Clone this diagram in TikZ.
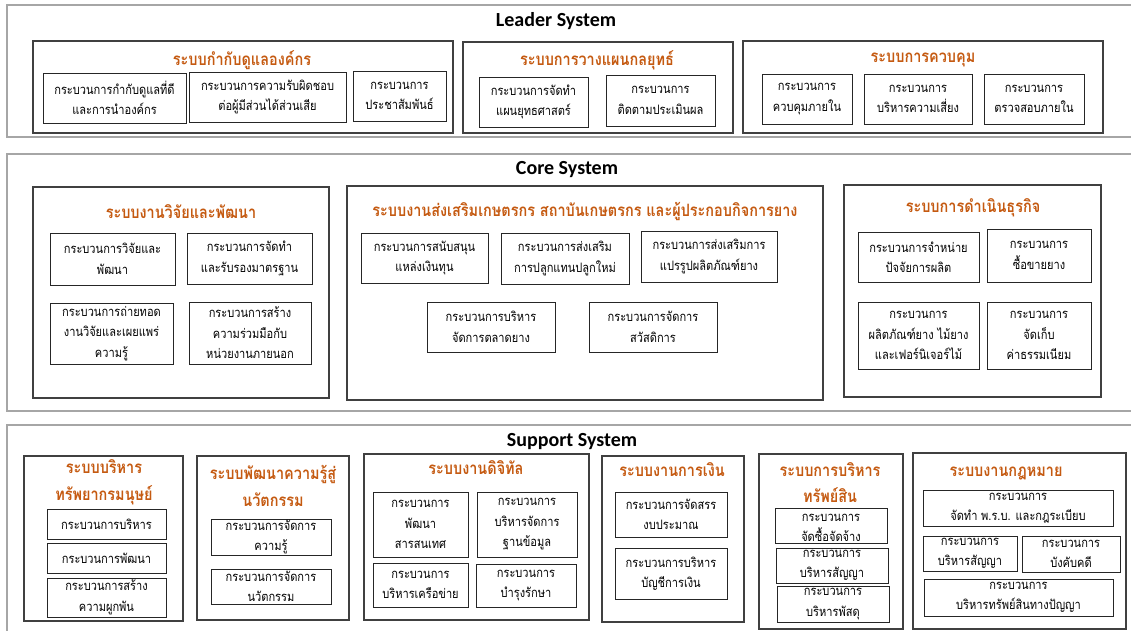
\documentclass[tikz,border=0pt]{standalone}
\usepackage{fontspec}
\setmainfont[Script=Thai, FakeStretch=0.85]{Loma}
\newfontfamily\engfont{Carlito}
\usetikzlibrary{fit}
\definecolor{orng}{HTML}{C55A11}
\definecolor{bandgray}{HTML}{A6A6A6}
\definecolor{grpgray}{HTML}{404040}
\tikzset{
 band/.style={draw=bandgray, line width=1.6pt, inner sep=0pt},
 grp/.style={draw=grpgray, line width=1.1pt, inner sep=0pt},
 subbox/.style={draw=black!85, line width=0.9pt, inner sep=0pt},
 ptxt/.style={align=center, inner sep=0pt, font=\fontsize{13}{20.5}\selectfont},
 gtitle/.style={align=center, inner sep=0pt, text=orng, font=\fontsize{17}{27}\selectfont\bfseries},
 systitle/.style={inner sep=0pt, font=\engfont\bfseries\fontsize{20}{24}\selectfont},
}
\newcommand\pbx[6]{\node[subbox, fit={(#2,#3) (#4,#5)}] (#1) {};
 \node[ptxt] (#1t) at (#1.center) {#6};}
\newcommand\gbx[5]{\node[grp, fit={(#2,#3) (#4,#5)}] (#1) {};}
\begin{document}
\begin{tikzpicture}[x=1pt,y=-1pt]
\useasboundingbox[fill=white] (0,0) rectangle (1131,630);
% ---------------- Leader ----------------
\node[band, fit={(7,5) (1140,137)}] (leader) {};
\node[systitle] (leaderT) at (556,21) {Leader System};
\gbx{lg1}{33}{41}{453}{133}
\node[gtitle] (lg1T) at (242,60) {ระบบกำกับดูแลองค์กร};
\pbx{l11}{43}{73}{186}{123}{กระบวนการกำกับดูแลที่ดี\\และการนำองค์กร}
\pbx{l12}{189}{72}{346}{122}{กระบวนการความรับผิดชอบ\\ต่อผู้มีส่วนได้ส่วนเสีย}
\pbx{l13}{353}{71}{446}{121}{กระบวนการ\\ประชาสัมพันธ์}
\gbx{lg2}{463}{42}{733}{133}
\node[gtitle] (lg2T) at (597,60) {ระบบการวางแผนกลยุทธ์};
\pbx{l21}{479}{77}{588}{127}{กระบวนการจัดทำ\\แผนยุทธศาสตร์}
\pbx{l22}{606}{75}{715}{126}{กระบวนการ\\ติดตามประเมินผล}
\gbx{lg3}{743}{41}{1103}{133}
\node[gtitle] (lg3T) at (923,60) {ระบบการควบคุม};
\pbx{l31}{762}{74}{852}{124}{กระบวนการ\\ควบคุมภายใน}
\pbx{l32}{864}{74}{972}{124}{กระบวนการ\\บริหารความเสี่ยง}
\pbx{l33}{984}{74}{1084}{124}{กระบวนการ\\ตรวจสอบภายใน}
% ---------------- Core ----------------
\node[band, fit={(7,154) (1140,411)}] (core) {};
\node[systitle] (coreT) at (567,170) {Core System};
\gbx{cg1}{33}{187}{329}{398}
\node[gtitle] (cg1T) at (181,212) {ระบบงานวิจัยและพัฒนา};
\pbx{c11}{50}{233}{175}{285}{กระบวนการวิจัยและ\\พัฒนา}
\pbx{c12}{187}{233}{312}{284}{กระบวนการจัดทำ\\และรับรองมาตรฐาน}
\pbx{c13}{50}{303}{173}{364}{กระบวนการถ่ายทอด\\งานวิจัยและเผยแพร่\\ความรู้}
\pbx{c14}{189}{302}{311}{364}{กระบวนการสร้าง\\ความร่วมมือกับ\\หน่วยงานภายนอก}
\gbx{cg2}{347}{186}{823}{400}
\node[gtitle] (cg2T) at (585,211) {ระบบงานส่งเสริมเกษตรกร สถาบันเกษตรกร และผู้ประกอบกิจการยาง};
\pbx{c21}{361}{233}{488}{283}{กระบวนการสนับสนุน\\แหล่งเงินทุน}
\pbx{c22}{501}{233}{629}{284}{กระบวนการส่งเสริม\\การปลูกแทนปลูกใหม่}
\pbx{c23}{641}{231}{777}{282}{กระบวนการส่งเสริมการ\\แปรรูปผลิตภัณฑ์ยาง}
\pbx{c24}{427}{302}{555}{352}{กระบวนการบริหาร\\จัดการตลาดยาง}
\pbx{c25}{589}{302}{717}{352}{กระบวนการจัดการ\\สวัสดิการ}
\gbx{cg3}{844}{185}{1101}{397}
\node[gtitle] (cg3T) at (973,208) {ระบบการดำเนินธุรกิจ};
\pbx{c31}{858}{232}{979}{282}{กระบวนการจำหน่าย\\ปัจจัยการผลิต}
\pbx{c32}{987}{229}{1091}{282}{กระบวนการ\\ซื้อขายยาง}
\pbx{c33}{858}{302}{979}{369}{กระบวนการ\\ผลิตภัณฑ์ยาง ไม้ยาง\\และเฟอร์นิเจอร์ไม้}
\pbx{c34}{987}{302}{1091}{369}{กระบวนการ\\จัดเก็บ\\ค่าธรรมเนียม}
% ---------------- Support ----------------
\node[band, fit={(7,425) (1140,645)}] (support) {};
\node[systitle] (supportT) at (572,442) {Support System};
\gbx{sg1}{24}{456}{183}{621}
\node[gtitle] (sg1T) at (104,482) {ระบบบริหาร\\ทรัพยากรมนุษย์};
\pbx{s11}{47}{509}{166}{539}{กระบวนการบริหาร}
\pbx{s12}{47}{543}{166}{573}{กระบวนการพัฒนา}
\pbx{s13}{47}{578}{166}{617}{กระบวนการสร้าง\\ความผูกพัน}
\gbx{sg2}{197}{456}{349}{620}
\node[gtitle] (sg2T) at (273,486) {ระบบพัฒนาความรู้สู่\\นวัตกรรม};
\pbx{s21}{211}{519}{331}{555}{กระบวนการจัดการ\\ความรู้}
\pbx{s22}{211}{569}{331}{604}{กระบวนการจัดการ\\นวัตกรรม}
\gbx{sg3}{364}{454}{589}{620}
\node[gtitle] (sg3T) at (476,468) {ระบบงานดิจิทัล};
\pbx{s31}{373}{492}{468}{557}{กระบวนการ\\พัฒนา\\สารสนเทศ}
\pbx{s32}{477}{492}{577}{557}{กระบวนการ\\บริหารจัดการ\\ฐานข้อมูล}
\pbx{s33}{373}{563}{468}{607}{กระบวนการ\\บริหารเครือข่าย}
\pbx{s34}{476}{564}{576}{607}{กระบวนการ\\บำรุงรักษา}
\gbx{sg4}{602}{456}{744}{622}
\node[gtitle] (sg4T) at (672,470) {ระบบงานการเงิน};
\pbx{s41}{615}{492}{727}{537}{กระบวนการจัดสรร\\งบประมาณ}
\pbx{s42}{615}{548}{727}{599}{กระบวนการบริหาร\\บัญชีการเงิน}
\gbx{sg5}{759}{454}{903}{629}
\node[gtitle, font=\fontsize{17}{26}\selectfont\bfseries] (sg5T) at (830,483) {ระบบการบริหาร\\ทรัพย์สิน};
\node[subbox, fit={(775,508) (887,543)}] (s51) {};
\node[ptxt] (s51t) at (831,528) {กระบวนการ\\จัดซื้อจัดจ้าง};
\pbx{s52}{776}{548}{888}{583}{กระบวนการ\\บริหารสัญญา}
\pbx{s53}{777}{586}{889}{622}{กระบวนการ\\บริหารพัสดุ}
\gbx{sg6}{913}{453}{1126}{629}
\node[gtitle] (sg6T) at (1006,473) {ระบบงานกฎหมาย};
\pbx{s61}{923}{490}{1113}{526}{กระบวนการ\\จัดทำ พ.ร.บ. และกฎระเบียบ}
\pbx{s62}{923}{536}{1017}{571}{กระบวนการ\\บริหารสัญญา}
\pbx{s63}{1022}{536}{1120}{572}{กระบวนการ\\บังคับคดี}
\pbx{s64}{924}{579}{1113}{616}{กระบวนการ\\บริหารทรัพย์สินทางปัญญา}
\end{tikzpicture}
\end{document}
